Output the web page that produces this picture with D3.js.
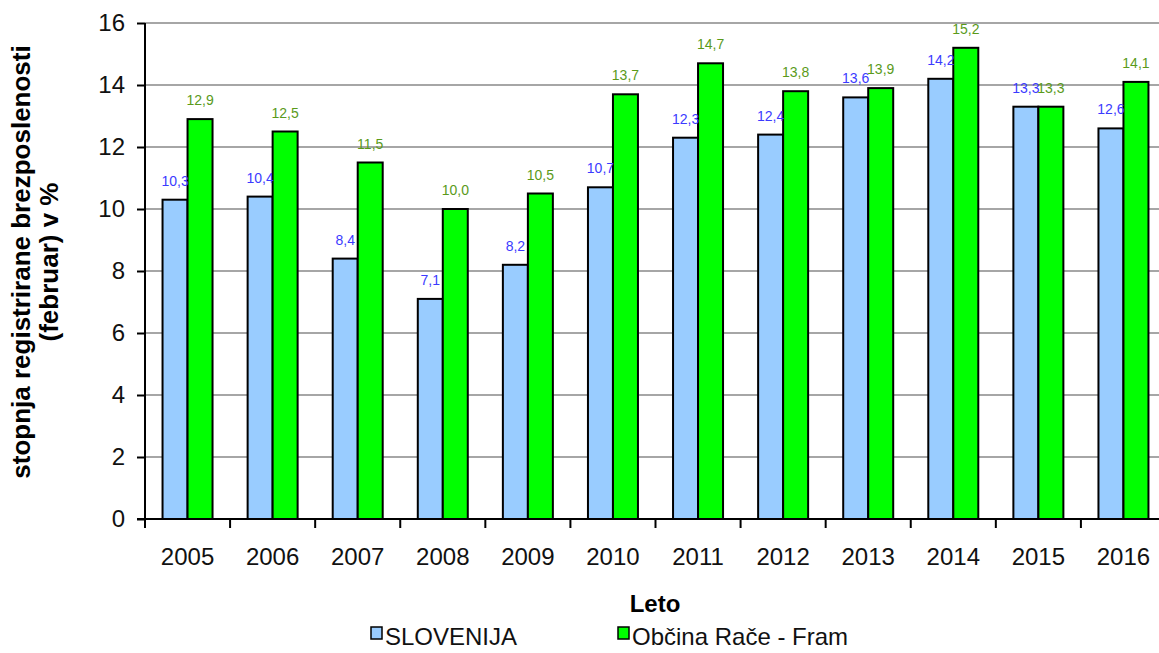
<!DOCTYPE html>
<html>
<head>
<meta charset="utf-8">
<script src="https://cdn.jsdelivr.net/npm/d3@7"></script>
<style>
  body { margin: 0; background: #fff; }
  svg { display: block; font-family: "Liberation Sans", Arial, sans-serif; }
</style>
</head>
<body>
<svg id="chart" width="1159" height="653"></svg>
<script>
// data
let years = ['2005','2006','2007','2008','2009','2010','2011','2012','2013','2014','2015','2016'];
let slovenija = [10.3, 10.4, 8.4, 7.1, 8.2, 10.7, 12.3, 12.4, 13.6, 14.2, 13.3, 12.6];
let raceFram = [12.9, 12.5, 11.5, 10.0, 10.5, 13.7, 14.7, 13.8, 13.9, 15.2, 13.3, 14.1];
let yTicks = [0, 2, 4, 6, 8, 10, 12, 14, 16];
let seriesNames = ['SLOVENIJA', 'Občina Rače - Fram'];

let colors = ['#99ccff', '#00ff00'];
let labelColors = ['#3b3bff', '#5a9a1a'];

let svg = d3.select('#chart');

// plot area (right edge runs past the picture like the original crop)
let plotL = 145, plotR = 1166, plotT = 23, plotB = 519;

let x = d3.scaleBand()
  .domain(years)
  .range([plotL, plotR])
  .paddingInner(0)
  .paddingOuter(0);

let y = d3.scaleLinear()
  .domain([0, 16])
  .range([plotB, plotT]);

let barW = 25;

// gridlines
svg.append('g')
  .attr('class', 'grid')
  .selectAll('line')
  .data(yTicks.filter(d => d > 0))
  .enter()
  .append('line')
  .attr('x1', plotL)
  .attr('x2', 1159)
  .attr('y1', d => y(d))
  .attr('y2', d => y(d))
  .style('stroke', '#a6a6a6')
  .style('stroke-width', '2px');

// y axis
let yAxis = svg.append('g')
  .attr('transform', `translate(${plotL},0)`)
  .call(d3.axisLeft(y).tickValues(yTicks).tickSize(8).tickPadding(12));
yAxis.select('.domain').remove();
yAxis.selectAll('line').style('stroke', '#000').style('stroke-width', '2px');
yAxis.selectAll('text')
  .style('font-size', '24px')
  .style('fill', '#111')
  .style('font-family', '"Liberation Sans", Arial, sans-serif');

// bars
let pairs = years.map((yr, i) => ({ year: yr, values: [slovenija[i], raceFram[i]] }));

let groups = svg.append('g')
  .attr('class', 'bars')
  .selectAll('g.pair')
  .data(pairs)
  .enter()
  .append('g')
  .attr('class', 'pair')
  .attr('transform', d => `translate(${x(d.year) + x.bandwidth() / 2},0)`);

groups.selectAll('rect')
  .data(d => d.values)
  .enter()
  .append('rect')
  .attr('x', (d, i) => (i - 1) * barW)
  .attr('y', d => y(d))
  .attr('width', barW)
  .attr('height', d => plotB - y(d))
  .style('fill', (d, i) => colors[i])
  .style('stroke', '#000')
  .style('stroke-width', '2px');

groups.selectAll('text')
  .data(d => d.values)
  .enter()
  .append('text')
  .attr('x', (d, i) => (i - 1) * barW + barW / 2)
  .attr('y', d => y(d) - 14)
  .attr('text-anchor', 'middle')
  .style('font-size', '14px')
  .style('fill', (d, i) => labelColors[i])
  .text(d => d.toFixed(1).replace('.', ','));

// y axis line drawn over bars
svg.append('line')
  .attr('x1', plotL).attr('x2', plotL)
  .attr('y1', plotT).attr('y2', plotB + 1)
  .style('stroke', '#000')
  .style('stroke-width', '2px');

// x axis
svg.append('line')
  .attr('x1', plotL - 8).attr('x2', 1159)
  .attr('y1', plotB).attr('y2', plotB)
  .style('stroke', '#000')
  .style('stroke-width', '2px');

svg.append('g')
  .selectAll('line')
  .data(years)
  .enter()
  .append('line')
  .attr('x1', d => x(d)).attr('x2', d => x(d))
  .attr('y1', plotB).attr('y2', plotB + 9)
  .style('stroke', '#000')
  .style('stroke-width', '2px');

svg.append('g')
  .selectAll('text')
  .data(years)
  .enter()
  .append('text')
  .attr('x', d => x(d) + x.bandwidth() / 2)
  .attr('y', 565)
  .attr('text-anchor', 'middle')
  .style('font-size', '24px')
  .style('fill', '#111')
  .text(d => d);

// axis titles
svg.append('text')
  .attr('x', 655)
  .attr('y', 612)
  .attr('text-anchor', 'middle')
  .style('font-size', '24px')
  .style('font-weight', 'bold')
  .style('fill', '#000')
  .text('Leto');

let yTitle = svg.append('text')
  .attr('transform', 'translate(0,262) rotate(-90)')
  .attr('text-anchor', 'middle')
  .style('font-size', '26px')
  .style('font-weight', 'bold')
  .style('fill', '#000');
yTitle.append('tspan').attr('x', 0).attr('y', 30).text('stopnja registrirane brezposlenosti');
yTitle.append('tspan').attr('x', 0).attr('y', 58).text('(februar) v %');

// legend
let legendX = [371, 618];
let legend = svg.append('g')
  .selectAll('g')
  .data(seriesNames)
  .enter()
  .append('g')
  .attr('transform', (d, i) => `translate(${legendX[i]},627)`);

legend.append('rect')
  .attr('width', 11)
  .attr('height', 12)
  .style('fill', (d, i) => colors[i])
  .style('stroke', '#000')
  .style('stroke-width', '1.5px');

legend.append('text')
  .attr('x', 14)
  .attr('y', 18)
  .style('font-size', '24px')
  .style('fill', '#111')
  .text(d => d);
</script>
</body>
</html>
